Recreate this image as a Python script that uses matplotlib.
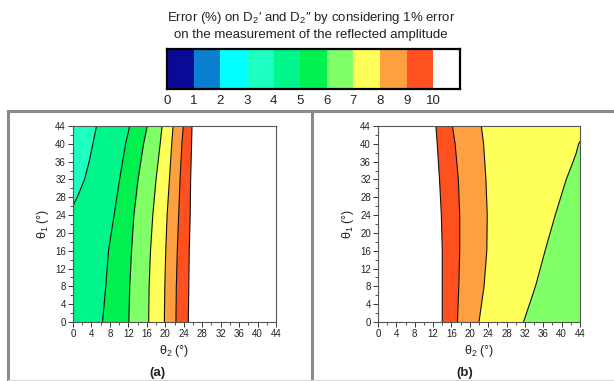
import matplotlib.pyplot as plt
from matplotlib.lines import Line2D

plt.rcParams['font.family'] = ['Liberation Sans', 'DejaVu Sans']
plt.rcParams['mathtext.fontset'] = 'custom'
plt.rcParams['mathtext.rm'] = 'Liberation Sans'
plt.rcParams['mathtext.it'] = 'Liberation Sans:italic'

# colour scale, error (%) classes 0-1 ... 9-10, >10
levels = list(range(11))
colors = ['#0a0a96', '#0b7fcf', '#00ffff', '#1effc2', '#00f58a',
          '#00f050', '#80ff66', '#ffff5a', '#ffa040', '#ff5020', '#ffffff']

# theta1 values at which boundaries were read
th1 = [0, 8, 16, 24, 32, 40, 44]

# panel (a): theta2 position of each iso-error line
a_b3_th1 = [26, 27, 28, 30, 32, 36, 40, 44]
a_b3_th2 = [0, 0.4, 0.9, 1.7, 2.5, 3.5, 4.3, 5.1]
a_b5 = [6.4, 7.1, 7.7, 8.9, 10.1, 11.4, 12.3]
a_b6 = [12.1, 12.3, 12.7, 13.2, 14.1, 15.3, 16.1]
a_b7 = [16.4, 16.5, 16.8, 17.3, 18.0, 18.9, 19.3]
a_b8 = [19.8, 19.9, 20.1, 20.4, 20.9, 21.4, 21.7]
a_b9 = [22.3, 22.4, 22.6, 22.9, 23.2, 23.6, 23.9]
a_b10 = [25.0, 25.1, 25.2, 25.4, 25.5, 25.7, 25.8]

# panel (b)
b_b10 = [14.0, 14.0, 14.0, 13.8, 13.4, 12.9, 12.6]
b_b9 = [17.3, 17.6, 17.8, 17.8, 17.5, 16.8, 16.2]
b_b8 = [22.0, 23.1, 23.7, 23.8, 23.5, 23.0, 22.5]
b_b7_th1 = [0, 8, 16, 24, 32, 36, 38, 40, 40.5]
b_b7_th2 = [31.7, 34.3, 36.4, 38.6, 41.0, 42.5, 43.2, 43.7, 44]

ticks = list(range(0, 45, 4))


def curve(x, y):
    return list(zip(x, y))


def region(ax, left, right, color):
    # left/right: lists of (theta2, theta1) ordered bottom to top
    pts = list(left) + list(reversed(right))
    ax.fill([p[0] for p in pts], [p[1] for p in pts], color=color, lw=0, zorder=1)


def style(ax):
    ax.set_xlim(0, 44)
    ax.set_ylim(0, 44)
    ax.set_xticks(ticks)
    ax.set_yticks(ticks)
    ax.set_xticks(range(0, 45, 2), minor=True)
    ax.set_yticks(range(0, 45, 2), minor=True)
    ax.tick_params(labelsize=7, length=3.5, width=0.7, color='#333333', pad=1.5,
                   labelcolor='#222222')
    ax.tick_params(which='minor', length=2, width=0.6, color='#333333')
    for s in ax.spines.values():
        s.set_color('#555555')
        s.set_linewidth(0.8)
        s.set_zorder(5)
    ax.set_xlabel('θ$_2$ (°)', fontsize=9, labelpad=3, color='#222222')
    ax.set_ylabel('θ$_1$ (°)', fontsize=9, labelpad=3, color='#222222')


fig = plt.figure(figsize=(6.14, 3.81), dpi=100)
W, H = 614, 381


def fbox(x0, y0, x1, y1):
    return [x0 / W, 1 - y1 / H, (x1 - x0) / W, (y1 - y0) / H]


# title and colour bar
fig.text(311 / W, 1 - 18 / H, "Error (%) on D$_2$′ and D$_2$″ by considering 1% error",
         ha='center', va='center', fontsize=9.5, color='#222222')
fig.text(311 / W, 1 - 35 / H, "on the measurement of the reflected amplitude",
         ha='center', va='center', fontsize=9.5, color='#222222')

cax = fig.add_axes(fbox(167, 49, 460, 89))
cax.bar(range(11), 1, width=1, align='edge', color=colors, lw=0)
cax.set_xlim(0, 11)
cax.set_ylim(0, 1)
cax.set_yticks([])
cax.set_xticks(levels)
cax.set_xticklabels([str(v) for v in levels], fontsize=9.5, color='#222222')
cax.tick_params(length=0, pad=4)
for s in cax.spines.values():
    s.set_linewidth(1.6)
    s.set_color('black')

# panel frames
frame_kw = dict(transform=fig.transFigure, color='#8a8a8a', lw=2.2, clip_on=False)
fig.add_artist(Line2D([7.5 / W, 1.0], [1 - 110.5 / H] * 2, **frame_kw))
fig.add_artist(Line2D([7.5 / W] * 2, [1 - 110.5 / H, 0], **frame_kw))
fig.add_artist(Line2D([311.5 / W] * 2, [1 - 110.5 / H, 0], **frame_kw))
fig.add_artist(Line2D([7.5 / W, 1.0], [1 - 379.5 / H] * 2, transform=fig.transFigure,
                      color='#d8d8d8', lw=0.8))

# panel (a)
ax1 = fig.add_axes(fbox(73, 126, 276, 322))
b3 = curve(a_b3_th2, a_b3_th1)
b5, b6, b7 = curve(a_b5, th1), curve(a_b6, th1), curve(a_b7, th1)
b8, b9, b10 = curve(a_b8, th1), curve(a_b9, th1), curve(a_b10, th1)
pts = b3 + [(0, 44)]
ax1.fill([p[0] for p in pts], [p[1] for p in pts], color=colors[3], lw=0, zorder=1)
region(ax1, [(0, 0)] + b3, b5, colors[4])
region(ax1, b5, b6, colors[5])
region(ax1, b6, b7, colors[6])
region(ax1, b7, b8, colors[7])
region(ax1, b8, b9, colors[8])
region(ax1, b9, b10, colors[9])
for c in [b3, b5, b6, b7, b8, b9, b10]:
    ax1.plot([p[0] for p in c], [p[1] for p in c], color='#111111', lw=0.8, zorder=2)
style(ax1)

# panel (b)
ax2 = fig.add_axes(fbox(378, 126, 580, 322))
c10, c9, c8 = curve(b_b10, th1), curve(b_b9, th1), curve(b_b8, th1)
c7 = curve(b_b7_th2, b_b7_th1)
region(ax2, c10, c9, colors[9])
region(ax2, c9, c8, colors[8])
region(ax2, c8, c7 + [(44, 44)], colors[7])
pts = c7 + [(44, 0)]
ax2.fill([p[0] for p in pts], [p[1] for p in pts], color=colors[6], lw=0, zorder=1)
for c in [c10, c9, c8, c7]:
    ax2.plot([p[0] for p in c], [p[1] for p in c], color='#111111', lw=0.8, zorder=2)
style(ax2)

fig.text(157 / W, 1 - 373 / H, '(a)', ha='center', va='center', fontsize=9.5,
         fontweight='bold', color='#222222')
fig.text(465 / W, 1 - 373 / H, '(b)', ha='center', va='center', fontsize=9.5,
         fontweight='bold', color='#222222')

fig.savefig('out.png', dpi=100)
